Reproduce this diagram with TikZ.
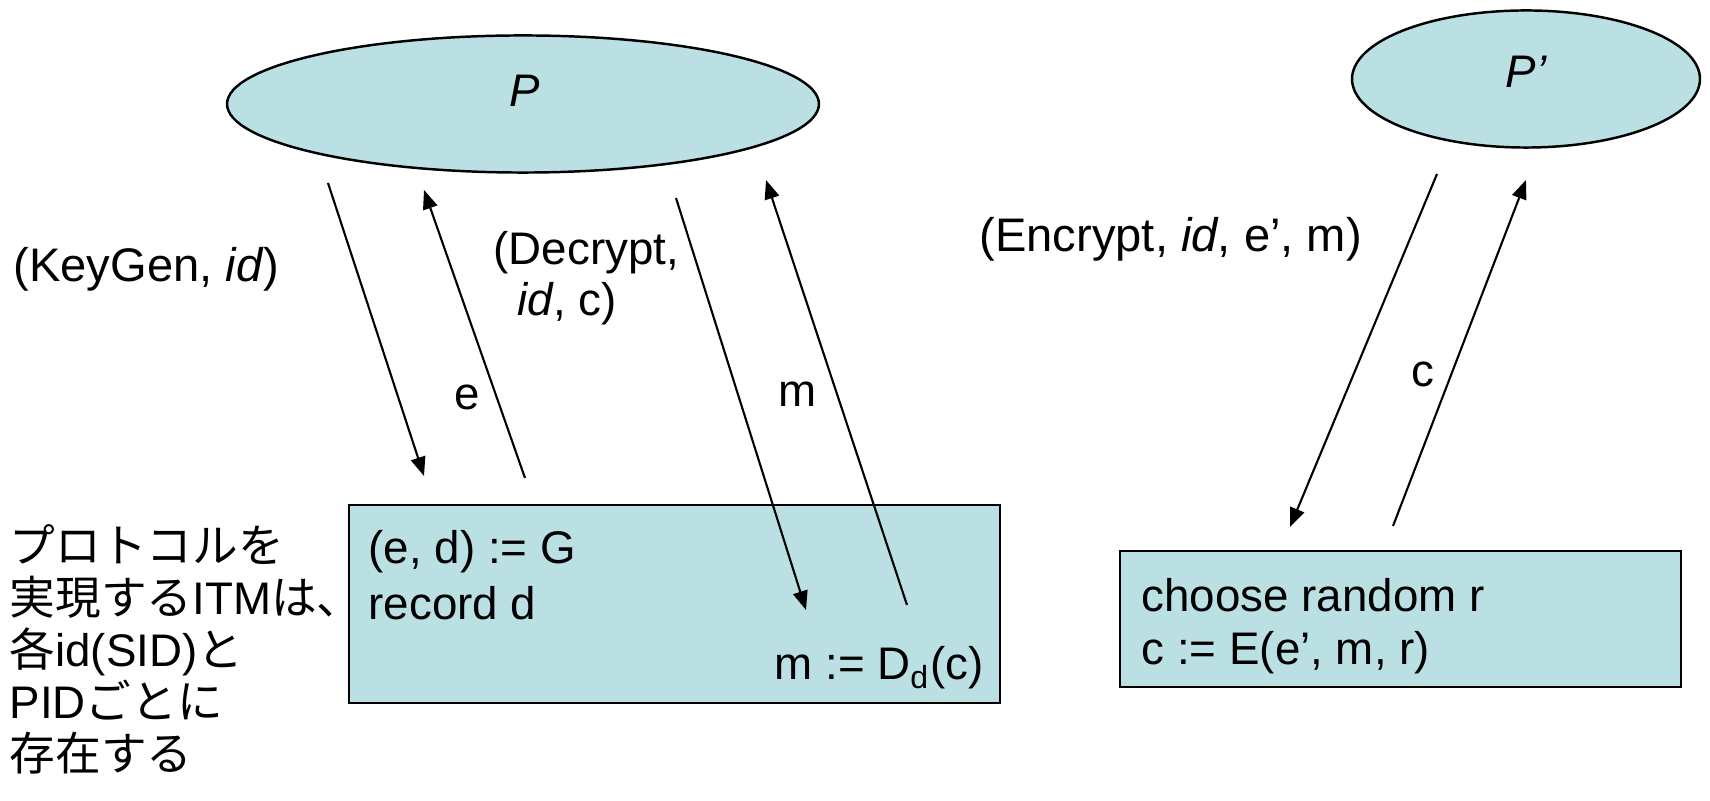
\documentclass[tikz,border=0pt]{standalone}
\usepackage{fontspec}
\setmainfont{Liberation Sans}
\newfontfamily\cjk{Noto Sans CJK JP}
\usetikzlibrary{arrows.meta,shapes.geometric}
\definecolor{paleteal}{RGB}{187,224,227}
\tikzset{
  party/.style={ellipse, draw=black, line width=0.7pt, fill=paleteal, inner sep=0pt},
  machine/.style={rectangle, draw=black, line width=0.7pt, fill=paleteal, inner sep=0pt},
  lbl/.style={font=\fontsize{13}{15}\selectfont, inner sep=0pt, text height=0.75em, text depth=0.25em},
  msg/.style={line width=0.6pt, -{Triangle[length=5.4pt,width=4.2pt]}},
}
\begin{document}
\begin{tikzpicture}[x=0.2845pt,y=-0.2845pt]
\useasboundingbox (0,0) rectangle (1710,801);

% parties
\node[party, minimum width=168.4pt, minimum height=39pt] (P) at (523,104) {};
\node[lbl] (Plabel) at (525,98) {\itshape P};
\node[party, minimum width=99pt, minimum height=39pt] (Pp) at (1526,79) {};
\node[lbl] (Pplabel) at (1526,79) {\itshape P'};

% ITM boxes
\node[machine, minimum width=185.2pt, minimum height=56.3pt] (B1) at (674.5,604) {};
\node[machine, minimum width=159.6pt, minimum height=38.7pt] (B2) at (1400.5,619) {};

\node[lbl, anchor=west] (b1a) at (368,555) {(e, d) := G};
\node[lbl, anchor=west] (b1b) at (368,611) {record d};
\node[lbl, anchor=east] (b1c) at (984,671) {m := D\textsubscript{d}(c)};
\node[lbl, anchor=west] (b2a) at (1141,603) {choose random r};
\node[lbl, anchor=west] (b2b) at (1141,656) {c := E(e’, m, r)};

% message endpoints
\coordinate (k1) at (328,183);  \coordinate (k2) at (424,476);
\coordinate (e1) at (525,478);  \coordinate (e2) at (424,190);
\coordinate (d1) at (676,198);  \coordinate (d2) at (806,610);
\coordinate (m1) at (907,605);  \coordinate (m2) at (766,180);
\coordinate (n1) at (1437,174); \coordinate (n2) at (1290,527);
\coordinate (c1) at (1393,526); \coordinate (c2) at (1526,180);

\draw[msg] (k1) -- (k2);
\draw[msg] (e1) -- (e2);
\draw[msg] (d1) -- (d2);
\draw[msg] (m1) -- (m2);
\draw[msg] (n1) -- (n2);
\draw[msg] (c1) -- (c2);

% message labels
\node[lbl, anchor=west, font=\fontsize{13.4}{15}\selectfont] (keygen) at (13,273) {(KeyGen, \textit{id})};
\node[lbl, anchor=west] (dec1) at (493,256) {(Decrypt,};
\node[lbl, anchor=west] (dec2) at (517,307) {\textit{id}, c)};
\node[lbl] (elbl) at (467,401) {e};
\node[lbl] (mlbl) at (798,398) {m};
\node[lbl, anchor=west, font=\fontsize{13.4}{15}\selectfont] (enc) at (979,243) {(Encrypt, \textit{id}, e’, m)};
\node[lbl] (clbl) at (1423,378) {c};

% note on ITM instances
\node[lbl, anchor=west] (n1l) at (9,554) {\cjk プロトコルを};
\node[lbl, anchor=west] (n2l) at (9,606) {\cjk 実現する\rmfamily ITM\cjk は、};
\node[lbl, anchor=west] (n3l) at (9,658) {\cjk 各\rmfamily id(SID)\cjk と};
\node[lbl, anchor=west] (n4l) at (9,710) {PID\cjk ごとに};
\node[lbl, anchor=west] (n5l) at (9,762) {\cjk 存在する};
\end{tikzpicture}
\end{document}
